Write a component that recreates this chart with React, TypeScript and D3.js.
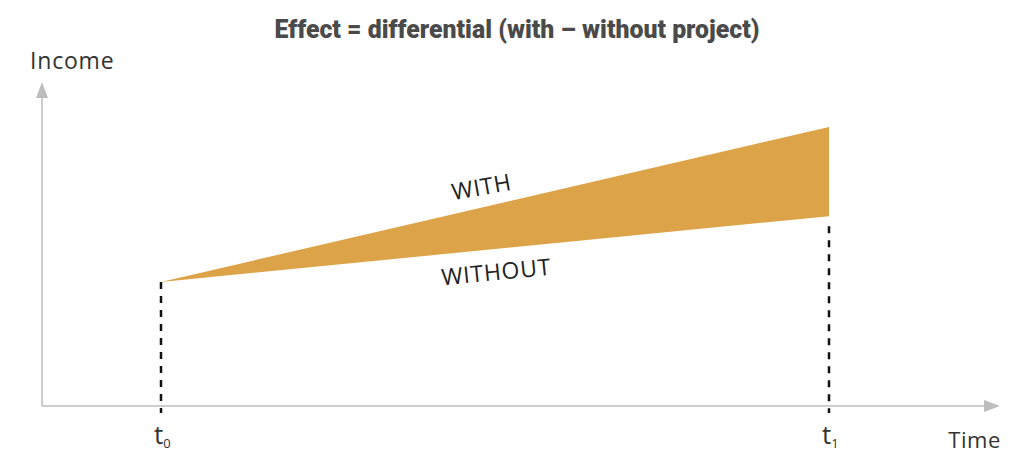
import React from "react";
import * as d3 from "d3";

const timePoints = [0, 1];
const timeLabels = ["0", "1"];
const withProject = [38.3, 86.1];
const withoutProject = [38.3, 58.6];
const title = "Effect = differential (with – without project)";

const W = 1016;
const H = 453;

export default function App() {
  const x = d3.scaleLinear().domain([0, 1]).range([161, 829]);
  const y = d3.scaleLinear().domain([0, 100]).range([406, 82]);
  const x0 = 42;
  const xEnd = 1000;
  const y0 = y(0);
  const yTop = y(100);

  const data = timePoints.map((t, i) => ({ t, hi: withProject[i], lo: withoutProject[i] }));
  const area = d3
    .area<{ t: number; hi: number; lo: number }>()
    .x((d) => x(d.t))
    .y0((d) => y(d.lo))
    .y1((d) => y(d.hi));

  const angWith = (Math.atan2(y(withProject[1]) - y(withProject[0]), x(1) - x(0)) * 180) / Math.PI;
  const angWithout = (Math.atan2(y(withoutProject[1]) - y(withoutProject[0]), x(1) - x(0)) * 180) / Math.PI;

  const labelFont = "'Open Sans', sans-serif";
  const axisColor = "#bdbdbd";

  return (
    <svg width={W} height={H} style={{ position: "absolute", left: 0, top: 0 }}>
      <rect width={W} height={H} fill="#fff" />
      <text
        x={517}
        y={38}
        textAnchor="middle"
        fontFamily="'Roboto', sans-serif"
        fontWeight={900}
        fontSize={25}
        fill="#4a4a4a"
        textLength={485}
        lengthAdjust="spacingAndGlyphs"
      >
        {title}
      </text>

      {/* axes */}
      <line x1={x0} y1={y0} x2={xEnd - 14} y2={y0} stroke={axisColor} strokeWidth={1.5} />
      <path d={`M${xEnd},${y0} L${xEnd - 16},${y0 - 6} L${xEnd - 16},${y0 + 6} Z`} fill={axisColor} />
      <line x1={x0} y1={y0} x2={x0} y2={yTop + 14} stroke={axisColor} strokeWidth={1.5} />
      <path d={`M${x0},${yTop} L${x0 - 6},${yTop + 16} L${x0 + 6},${yTop + 16} Z`} fill={axisColor} />

      {/* area */}
      <path d={area(data) || ""} fill="#dca348" />

      {/* dashed verticals */}
      <line x1={x(0)} y1={y(withoutProject[0])} x2={x(0)} y2={y0 + 7} stroke="#111" strokeWidth={2.5} strokeDasharray="7,7" />
      <line x1={x(1)} y1={y(withoutProject[1]) + 10} x2={x(1)} y2={y0 + 7} stroke="#111" strokeWidth={2.5} strokeDasharray="7,7" />

      {/* tick labels */}
      {timePoints.map((t, i) => (
        <text key={i} x={x(t) - 7} y={444} fontFamily={labelFont} fontWeight={400} fontSize={26} fill="#333">
          t
          <tspan fontSize={13} dy={4}>
            {timeLabels[i]}
          </tspan>
        </text>
      ))}

      <text x={1001} y={448} textAnchor="end" fontFamily={labelFont} fontWeight={400} fontSize={22} letterSpacing={0.6} fill="#333">
        Time
      </text>
      <text x={30} y={69} fontFamily={labelFont} fontWeight={400} fontSize={23} letterSpacing={0.8} fill="#333">
        Income
      </text>

      <text
        x={483}
        y={195}
        textAnchor="middle"
        fontFamily={labelFont}
        fontWeight={400}
        fontSize={23}
        letterSpacing={0.8}
        fill="#222"
        transform={`rotate(${angWith * 0.78}, 483, 195)`}
      >
        WITH
      </text>
      <text
        x={497}
        y={280}
        textAnchor="middle"
        fontFamily={labelFont}
        fontWeight={400}
        fontSize={23}
        letterSpacing={0.8}
        fill="#222"
        transform={`rotate(${angWithout}, 497, 280)`}
      >
        WITHOUT
      </text>
    </svg>
  );
}
